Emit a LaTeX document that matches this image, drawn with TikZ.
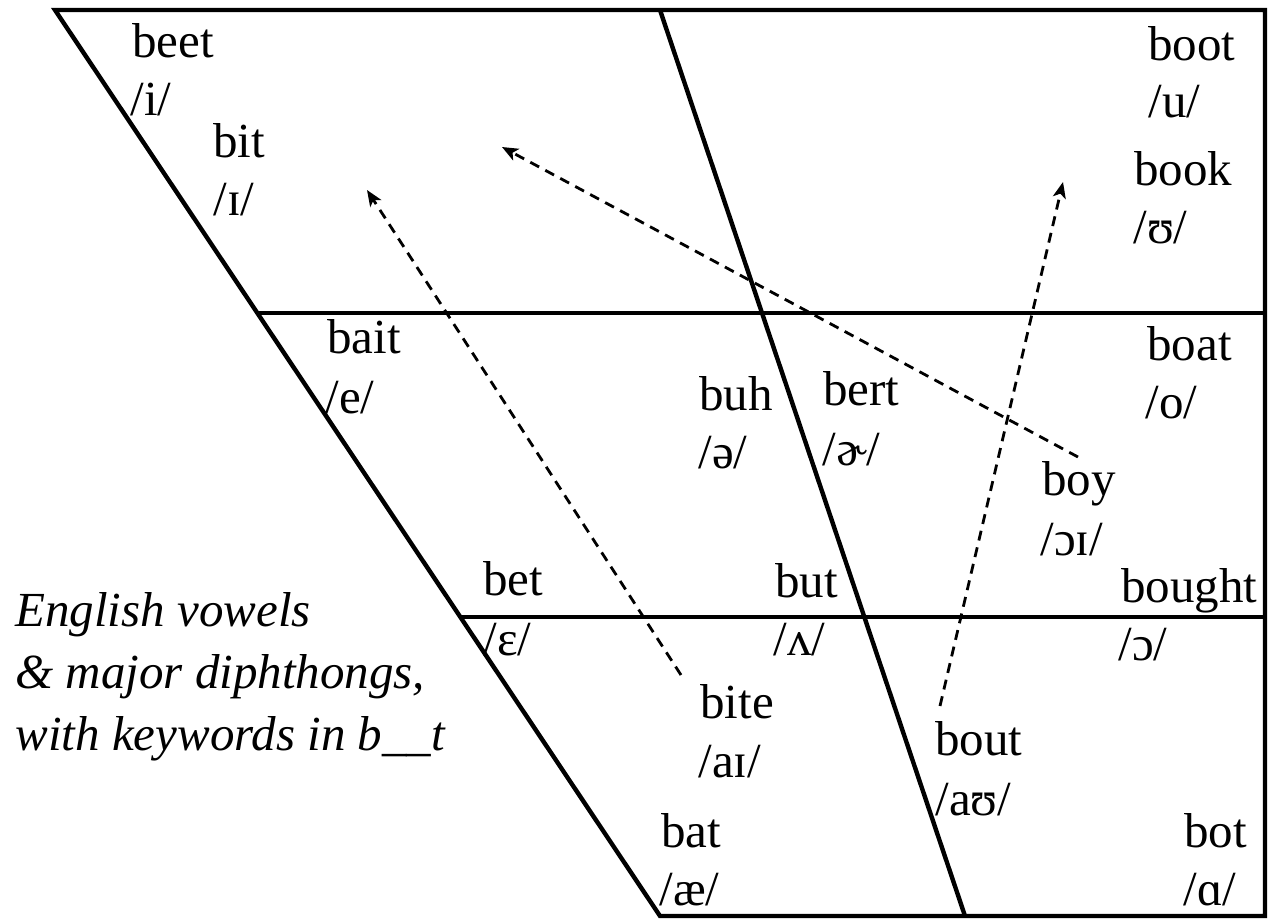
\documentclass[tikz,border=0pt]{standalone}
\usepackage{fontspec}
\setmainfont{Liberation Serif}
\usetikzlibrary{arrows.meta}

\tikzset{
  frame/.style={line width=2.2pt,line join=miter},
  word/.style={anchor=base west,inner sep=0pt},
  glide/.style={line width=1.4pt,dash pattern=on 5pt off 3.5pt,
    -{Stealth[length=8pt,width=6.5pt,inset=2pt]}},
  every node/.style={font=\fontsize{24.5}{31}\selectfont}
}

\begin{document}
\begin{tikzpicture}[x=0.5pt,y=-0.5pt]
\useasboundingbox (0,0) rectangle (1270,922);

% chart outline
\coordinate (tl) at (55,10);
\coordinate (tr) at (1265,10);
\coordinate (br) at (1265,916);
\coordinate (bl) at (660,916);
\draw[frame] (tl) -- (tr) -- (br) -- (bl) -- cycle;
\draw[frame] (660,10) -- (965,916);
\draw[frame] (257.6,313) -- (1265,313);
\draw[frame] (460.8,617) -- (1265,617);

% keywords and vowels
\node[word] (beet) at (132,57) {beet};
\node[word] (beet-ipa) at (130,115) {/i/};
\node[word] (bit) at (213,157) {bit};
\node[word] (bit-ipa) at (213,215) {/ɪ/};
\node[word] (boot) at (1148,60) {boot};
\node[word] (boot-ipa) at (1148,117) {/u/};
\node[word] (book) at (1134,185) {book};
\node[word] (book-ipa) at (1133,243) {/ʊ/};
\node[word] (bait) at (327,353) {bait};
\node[word] (bait-ipa) at (325,413) {/e/};
\node[word] (boat) at (1147,360) {boat};
\node[word] (boat-ipa) at (1145,418) {/o/};
\node[word] (buh) at (699,410) {buh};
\node[word] (buh-ipa) at (698,468) {/ə/};
\node[word] (bert) at (823,405) {bert};
\node[word] (bert-ipa) at (822,465) {/ɚ/};
\node[word] (boy) at (1042,495) {boy};
\node[word] (boy-ipa) at (1040,555) {/ɔɪ/};
\node[word] (bet) at (483,595) {bet};
\node[word] (bet-ipa) at (483,655) {/ɛ/};
\node[word] (but) at (775,597) {but};
\node[word] (but-ipa) at (773,655) {/ʌ/};
\node[word] (bought) at (1121,602) {bought};
\node[word] (bought-ipa) at (1118,660) {/ɔ/};
\node[word] (bite) at (700,718) {bite};
\node[word] (bite-ipa) at (698,777) {/aɪ/};
\node[word] (bout) at (935,755) {bout};
\node[word] (bout-ipa) at (935,815) {/aʊ/};
\node[word] (bat) at (661,847) {bat};
\node[word] (bat-ipa) at (659,905) {/æ/};
\node[word] (bot) at (1184,847) {bot};
\node[word] (bot-ipa) at (1183,905) {/ɑ/};

% legend (base = last line)
\node[word,align=left,font=\fontsize{24.5}{31}\selectfont\itshape] (legend) at (15,750)
  {English vowels\\\& major diphthongs,\\with keywords in b\_\_t};

% diphthong glides
\coordinate (bite-from) at (681,675);
\coordinate (bite-to) at (367,190);
\coordinate (boy-from) at (1078,457);
\coordinate (boy-to) at (502,147);
\coordinate (bout-from) at (940,706);
\coordinate (bout-to) at (1063,182);
\draw[glide] (bite-from) -- (bite-to);
\draw[glide] (boy-from) -- (boy-to);
\draw[glide] (bout-from) -- (bout-to);
\end{tikzpicture}
\end{document}
